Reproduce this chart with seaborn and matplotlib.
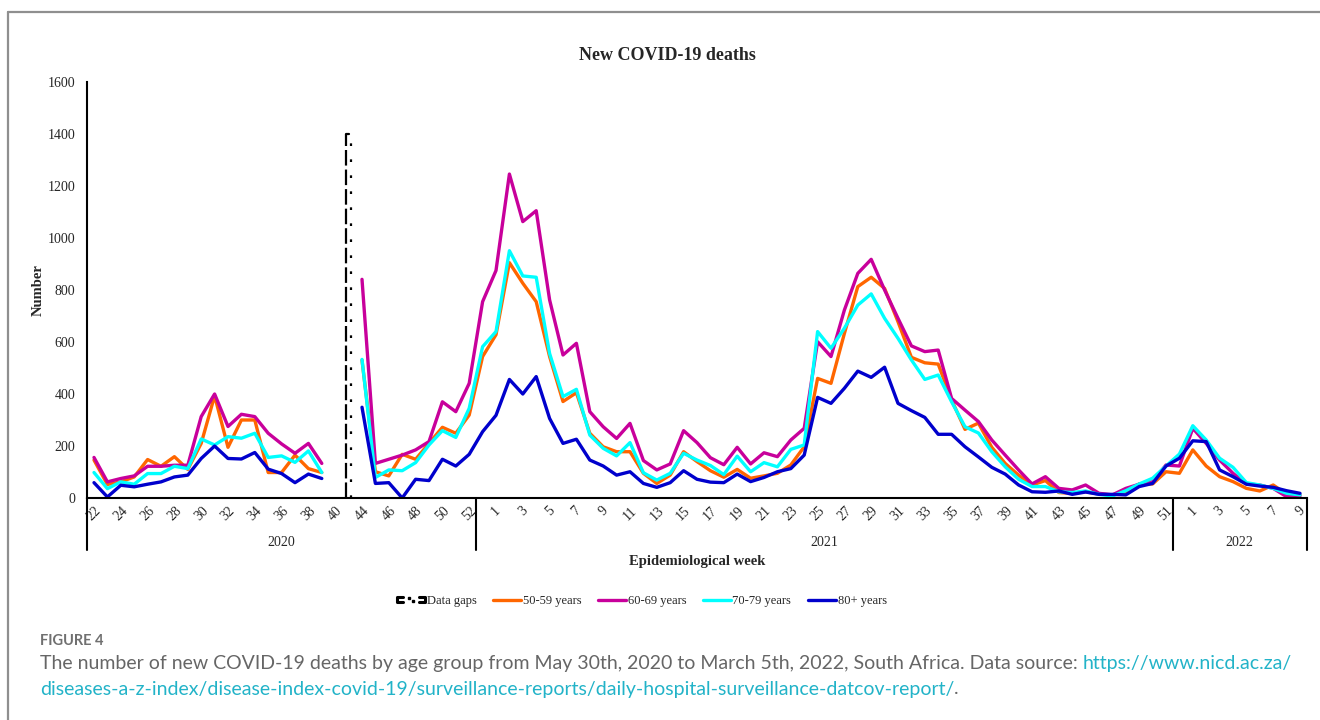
import numpy as np
import pandas as pd
import matplotlib
matplotlib.use("Agg")
import matplotlib.pyplot as plt
from matplotlib.lines import Line2D
from matplotlib.legend_handler import HandlerBase
import seaborn as sns

nan = np.nan

# ---- categories (epidemiological weeks) ----
weeks_2020 = [str(w) for w in range(22, 41)] + [""] + [str(w) for w in range(44, 54)]
weeks_2021 = [str(w) for w in range(1, 53)]
weeks_2022 = [str(w) for w in range(1, 10)]
years = ["2020", "2021", "2022"]

# ---- series values ----
age_50_59 = ([146, 52, 62, 81, 148, 122, 159, 110, 210, 393, 195, 300, 300, 98, 98, 165, 113, 98, nan,
              nan, 530, 101, 85, 168, 149, 210, 272, 249, 319, 544]
             + [628, 905, 826, 755, 544, 371, 405, 249, 197, 178, 178, 95, 56, 88, 178, 140, 105, 80, 110, 76,
                85, 95, 127, 197, 460, 441, 633, 813, 849, 806, 678, 541, 520, 515, 377, 264, 288, 195, 133, 88,
                50, 67, 21, 18, 24, 15, 12, 24, 54, 54, 101, 95]
             + [185, 123, 82, 63, 37, 27, 50, 15, 12])
age_60_69 = ([156, 62, 75, 85, 122, 122, 126, 126, 313, 400, 275, 322, 313, 249, 208, 172, 210, 133, nan,
              nan, 841, 133, 149, 165, 185, 217, 370, 332, 441, 755]
             + [875, 1246, 1063, 1105, 762, 550, 595, 332, 274, 229, 287, 144, 108, 131, 259, 213, 155, 128, 195,
                131, 174, 159, 223, 268, 601, 544, 723, 864, 918, 800, 691, 585, 563, 569, 383, 338, 294, 223, 165,
                108, 54, 82, 37, 31, 50, 18, 12, 37, 53, 63, 127, 123]
             + [268, 210, 146, 95, 54, 50, 37, 5, 8])
age_70_79 = ([98, 36, 62, 53, 94, 94, 122, 113, 227, 204, 236, 230, 249, 156, 162, 137, 181, 98, nan,
              nan, 533, 79, 108, 105, 136, 204, 259, 233, 345, 582]
             + [640, 951, 854, 849, 556, 390, 418, 242, 191, 162, 213, 97, 69, 95, 172, 146, 125, 90, 161, 101,
                136, 120, 187, 204, 640, 576, 653, 742, 785, 691, 614, 531, 456, 473, 370, 274, 250, 178, 120, 72,
                44, 44, 24, 21, 27, 14, 8, 28, 54, 76, 123, 169]
             + [278, 223, 153, 118, 59, 50, 37, 18, 12])
age_80_plus = ([59, 4, 49, 43, 53, 62, 81, 88, 152, 200, 152, 150, 175, 111, 94, 59, 92, 75, nan,
                nan, 349, 56, 59, 0, 72, 67, 149, 123, 168, 255]
               + [318, 456, 400, 467, 306, 210, 226, 146, 123, 88, 101, 56, 41, 59, 105, 72, 61, 59, 92, 63,
                  79, 101, 113, 165, 387, 364, 422, 488, 464, 503, 364, 336, 310, 245, 245, 197, 158, 118, 92, 50,
                  24, 22, 27, 14, 23, 14, 14, 12, 44, 56, 123, 153]
               + [220, 217, 108, 82, 53, 46, 41, 28, 18])

groups = ["50-59 years", "60-69 years", "70-79 years", "80+ years"]
colors = ["#FF6600", "#C8009B", "#00FFFF", "#0000CC"]

labels = weeks_2020 + weeks_2021 + weeks_2022
n = len(labels)
idx = np.arange(n)
gap_pos = weeks_2020.index("")
segment = np.where(idx < gap_pos, 0, 1)

rows = []
for g, vals in zip(groups, [age_50_59, age_60_69, age_70_79, age_80_plus]):
    for i, v in enumerate(vals):
        rows.append({"idx": i, "deaths": v, "group": g, "segment": segment[i]})
df = pd.DataFrame(rows).dropna()

sns.set_theme(style="white")
plt.rcParams["font.family"] = ["Liberation Serif", "DejaVu Serif"]

W, H = 1320, 720
fig = plt.figure(figsize=(W / 100, H / 100), dpi=100)
ax_left, ax_right, ax_top, ax_bot = 87.3, 1306.7, 82, 498
ax = fig.add_axes([ax_left / W, 1 - ax_bot / H, (ax_right - ax_left) / W, (ax_bot - ax_top) / H])

sns.lineplot(data=df, x="idx", y="deaths", hue="group", hue_order=groups, palette=colors,
             units="segment", estimator=None, linewidth=2.4, legend=False, ax=ax, sort=True)

ax.set_xlim(-0.5, n - 0.5)
ax.set_ylim(0, 1600)
ax.set_yticks(np.arange(0, 1601, 200))
ax.set_yticklabels([str(v) for v in range(0, 1601, 200)], fontsize=10)
tick_idx = idx[::2]
ax.set_xticks(tick_idx)
ax.set_xticklabels([labels[i] for i in tick_idx], rotation=45, fontsize=10)
ax.tick_params(axis="y", length=0, pad=8.5)
ax.tick_params(axis="x", length=0, pad=4.5)
for s in ["top", "right"]:
    ax.spines[s].set_visible(False)
for s in ["left", "bottom"]:
    ax.spines[s].set_color("black")
    ax.spines[s].set_linewidth(1.5)
ax.grid(False)

# year group separators & labels
xt = ax.get_xaxis_transform()
below = -52 / (ax_bot - ax_top)
n20, n21 = len(weeks_2020), len(weeks_2021)
seps = [-0.5, n20 - 1.5, n20 + n21 - 1.5, n - 0.5]
for s in seps:
    ax.plot([s, s], [0, below], transform=xt, color="black", lw=1.5, clip_on=False)
for yr, a, b in zip(years, seps[:-1], seps[1:]):
    ax.text((a + b) / 2, -45 / (ax_bot - ax_top), yr, transform=xt, ha="center", va="center", fontsize=10)

# data gap marker
gx1, gx2 = gap_pos - 0.2, gap_pos + 0.18
ax.plot([gx1, gx1], [0, 1400], color="black", lw=1.6, ls=(0, (7, 1.8)))
ax.plot([gx2, gx2], [0, 1400], color="black", lw=1.6, ls=(0, (1.2, 6)))
ax.plot([gx1, gx1 + 0.25], [1400, 1400], color="black", lw=1.6)

ax.set_xlabel("Epidemiological week", fontsize=10.5, fontweight="bold")
ax.xaxis.set_label_coords(0.5, -(562 - ax_bot) / (ax_bot - ax_top))
ax.xaxis.label.set_va("center")
ax.set_ylabel("Number", fontsize=10.5, fontweight="bold")
ax.yaxis.set_label_coords(-(ax_left - 38) / (ax_right - ax_left), 0.5)
ax.yaxis.label.set_va("center")

fig.text(667 / W, 1 - 55 / H, "New COVID-19 deaths", ha="center", va="center",
         fontsize=13, fontweight="bold")


class GapHandler(HandlerBase):
    def create_artists(self, legend, orig_handle, xdescent, ydescent, width, height, fontsize, trans):
        x0 = -xdescent
        cy = -ydescent + height / 2
        hh = height * 0.28
        bw = width * 0.22
        arts = [
            Line2D([x0 + bw, x0, x0, x0 + bw], [cy + hh, cy + hh, cy - hh, cy - hh], lw=2.2, color="black"),
            Line2D([x0 + width - bw, x0 + width, x0 + width, x0 + width - bw],
                   [cy + hh, cy + hh, cy - hh, cy - hh], lw=2.2, color="black"),
            Line2D([x0 + width * 0.42], [cy + hh * 0.6], marker="s", ms=2, color="black", lw=0),
            Line2D([x0 + width * 0.58], [cy - hh * 0.6], marker="s", ms=2, color="black", lw=0),
        ]
        for a in arts:
            a.set_transform(trans)
        return arts


gap_proxy = Line2D([], [], color="black")
handles = [gap_proxy] + [Line2D([], [], color=c, lw=2.4) for c in colors]
fig.legend(handles, ["Data gaps"] + groups, loc="center", bbox_to_anchor=(642 / W, 1 - 601 / H),
           ncol=5, frameon=False, fontsize=9, handlelength=2.2, handletextpad=0.15, columnspacing=1.35,
           handler_map={gap_proxy: GapHandler()})

# figure frame
frame_c = "#8f8f8f"
fig.add_artist(Line2D([8 / W, 1], [1 - 12 / H, 1 - 12 / H], transform=fig.transFigure, color=frame_c, lw=1.6))
fig.add_artist(Line2D([8 / W, 8 / W], [0, 1 - 12 / H], transform=fig.transFigure, color=frame_c, lw=1.6))

# caption
cap_font = ["Lato", "DejaVu Sans"]
gray = "#666666"
link = "#22B3C8"
cap_size = 14
fig.text(40 / W, 1 - 641 / H, "FIGURE 4", family=cap_font, fontweight="bold", color="#707070",
         fontsize=10.5, va="center", ha="left")
t1 = fig.text(40 / W, 1 - 663 / H,
              "The number of new COVID-19 deaths by age group from May 30th, 2020 to March 5th, 2022, "
              "South Africa. Data source: ", family=cap_font, color=gray, fontsize=cap_size, va="center", ha="left")
ax.annotate("https://www.nicd.ac.za/", xy=(1, 0.5), xycoords=t1, va="center", ha="left",
            family=cap_font, color=link, fontsize=cap_size, annotation_clip=False)
t2 = fig.text(40 / W, 1 - 689 / H,
              "diseases-a-z-index/disease-index-covid-19/surveillance-reports/daily-hospital-surveillance-datcov-report/",
              family=cap_font, color=link, fontsize=cap_size, va="center", ha="left")
ax.annotate(".", xy=(1, 0.5), xycoords=t2, va="center", ha="left",
            family=cap_font, color=gray, fontsize=cap_size, annotation_clip=False)

fig.savefig("out.png", dpi=100)
